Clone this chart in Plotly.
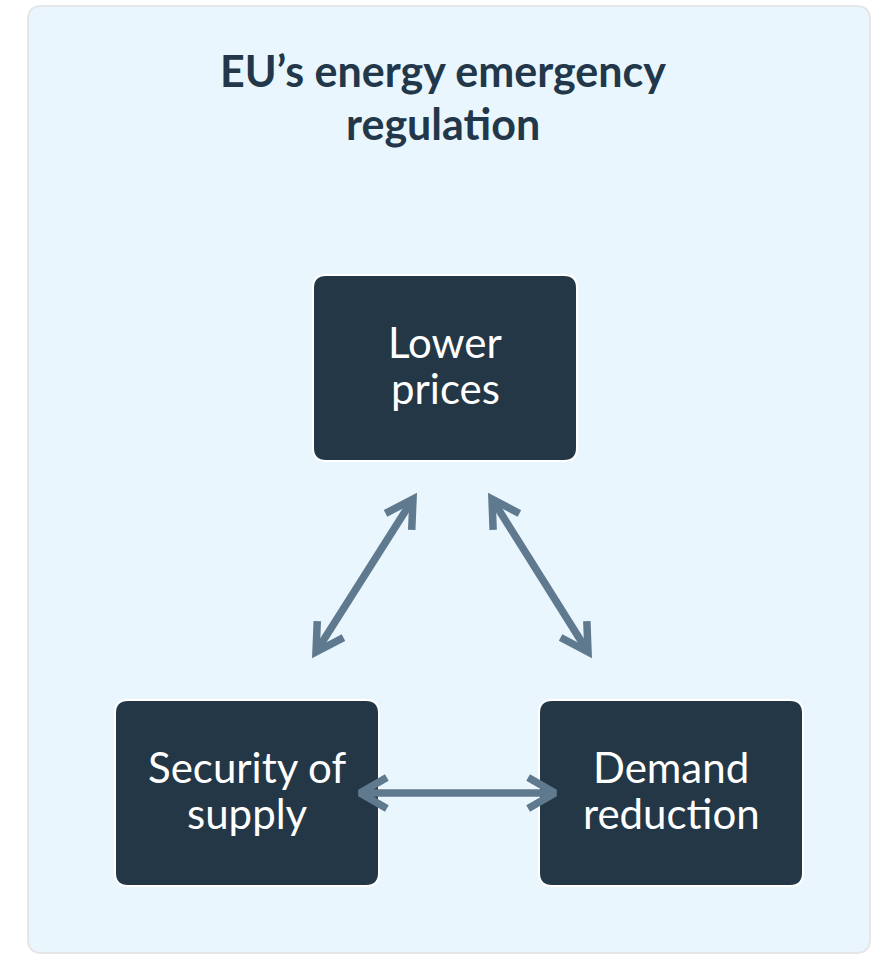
import math
import plotly.graph_objects as go

# ---- data ----
title_lines = ["EU’s energy emergency", "regulation"]
node_lines = [["Lower", "prices"], ["Security of", "supply"], ["Demand", "reduction"]]
node_cx = [445, 247, 671]
node_cy = [368, 793, 793]
links = [(0, 1), (0, 2), (1, 2)]

# ---- layout / style ----
W, H = 872, 955
BOX_W, BOX_H, BOX_R = 264, 186, 13
PANEL = (28, 6, 870, 953, 14)
BG = "#eaf6fd"
BOX = "#243746"
ARROW = "#5f798e"
TITLE = "#22384a"
FONT = "Lato"
HEAD_LEN, HEAD_ANG = 31, math.radians(30)


def rrect(x0, y0, x1, y1, r):
    return (f"M{x0+r},{y0} L{x1-r},{y0} Q{x1},{y0} {x1},{y0+r} "
            f"L{x1},{y1-r} Q{x1},{y1} {x1-r},{y1} L{x0+r},{y1} "
            f"Q{x0},{y1} {x0},{y1-r} L{x0},{y0+r} Q{x0},{y0} {x0+r},{y0} Z")


fig = go.Figure()
shapes = []
px0, py0, px1, py1, pr = PANEL
shapes.append(dict(type="path", path=rrect(px0, py0, px1, py1, pr), xref="x", yref="y",
                   fillcolor=BG, line=dict(color="#e4e6e8", width=2), layer="below"))
for cx, cy in zip(node_cx, node_cy):
    shapes.append(dict(type="path",
                       path=rrect(cx - BOX_W / 2, cy - BOX_H / 2, cx + BOX_W / 2, cy + BOX_H / 2, BOX_R),
                       xref="x", yref="y", fillcolor=BOX, line=dict(color="white", width=2), layer="below"))

annotations = []
for i, line in enumerate(title_lines):
    annotations.append(dict(x=443, y=70 + i * 53, xref="x", yref="y", text=f"<b>{line}</b>",
                            showarrow=False, font=dict(family=FONT, size=43, color=TITLE),
                            xanchor="center", yanchor="middle"))
LINE_GAP = 46
for lines, cx, cy in zip(node_lines, node_cx, node_cy):
    n = len(lines)
    for j, t in enumerate(lines):
        annotations.append(dict(x=cx, y=cy - 3 + (j - (n - 1) / 2) * LINE_GAP, xref="x", yref="y",
                                text=t, showarrow=False,
                                font=dict(family=FONT, size=42, color="white"),
                                xanchor="center", yanchor="middle"))

# arrow endpoints (gap between boxes)
arrow_pts = {
    (0, 1): ((413, 499), (316, 652)),
    (0, 2): ((492, 499), (588, 652)),
    (1, 2): ((360, 793), (555, 793)),
}


def head(tip, tail):
    dx, dy = tail[0] - tip[0], tail[1] - tip[1]
    L = math.hypot(dx, dy)
    ux, uy = dx / L, dy / L
    pts = []
    for s in (1, -1):
        c, sn = math.cos(s * HEAD_ANG), math.sin(s * HEAD_ANG)
        rx, ry = ux * c - uy * sn, ux * sn + uy * c
        pts.append((tip[0] + rx * HEAD_LEN, tip[1] + ry * HEAD_LEN))
    return [pts[0], tip, pts[1]]


for a, b in links:
    p1, p2 = arrow_pts[(a, b)]
    xs, ys = [], []
    for seg in ([p1, p2], head(p1, p2), head(p2, p1)):
        xs += [p[0] for p in seg] + [None]
        ys += [p[1] for p in seg] + [None]
    fig.add_trace(go.Scatter(x=xs, y=ys, mode="lines", hoverinfo="skip",
                             line=dict(color=ARROW, width=7.5)))

fig.update_layout(
    width=W, height=H, margin=dict(l=0, r=0, t=0, b=0),
    paper_bgcolor="white", plot_bgcolor="white",
    xaxis=dict(range=[0, W], visible=False, fixedrange=True),
    yaxis=dict(range=[H, 0], visible=False, fixedrange=True),
    shapes=shapes, annotations=annotations, showlegend=False,
)
fig.write_html("out.html", config={"displayModeBar": False},
               post_script="document.body.style.margin='0';document.body.style.overflow='hidden';")
